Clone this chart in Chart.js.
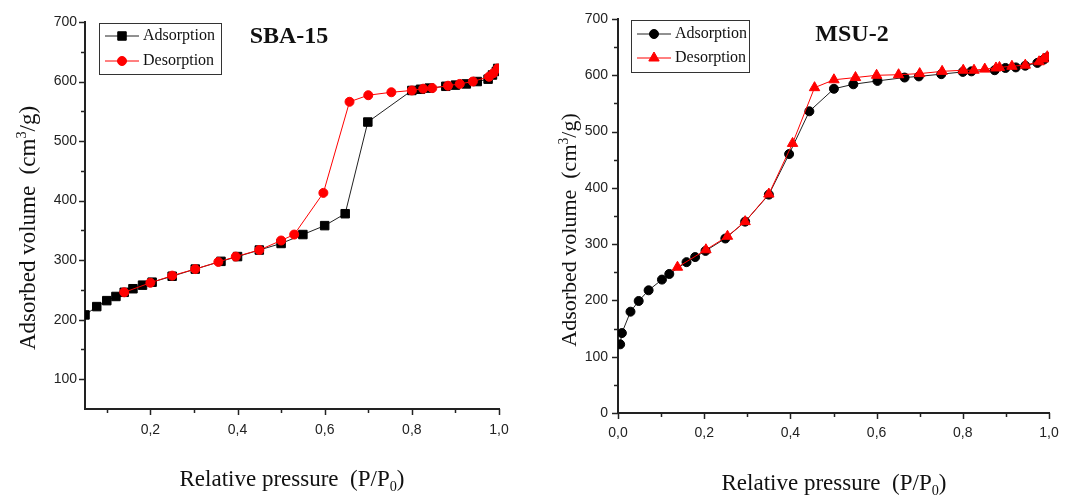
<!DOCTYPE html>
<html>
<head>
<meta charset="utf-8">
<title>SBA-15 / MSU-2 isotherms</title>
<script src="https://cdn.jsdelivr.net/npm/chart.js@4.4.0/dist/chart.umd.min.js"></script>
<style>
  html, body { margin: 0; padding: 0; background: #fff; }
  body { width: 1080px; height: 498px; position: relative; overflow: hidden; }
  canvas { position: absolute; top: 0; }
  #sbaChart { left: 0; }
  #msuChart { left: 540px; }
</style>
</head>
<body>
<canvas id="sbaChart" width="540" height="498"></canvas>
<canvas id="msuChart" width="540" height="498"></canvas>
<script>
// ============================================================
// DATA
// ============================================================

// ---------------- SBA-15
const sbaAdsX = [0.05, 0.077, 0.10, 0.121, 0.14, 0.16, 0.182, 0.204, 0.25, 0.303, 0.362, 0.40, 0.45, 0.50, 0.55, 0.60, 0.647, 0.699, 0.80, 0.82, 0.84, 0.878, 0.90, 0.925, 0.95, 0.975, 0.985, 0.994, 0.997];
const sbaAdsY = [208, 222, 232, 239, 246, 252, 258, 263, 273, 285, 298, 306, 317, 328, 343, 358, 378, 532, 585, 587, 589, 592, 594, 596, 600, 604, 611, 617, 622];
const sbaDesX = [0.997, 0.987, 0.977, 0.94, 0.91, 0.883, 0.847, 0.826, 0.80, 0.753, 0.70, 0.657, 0.597, 0.53, 0.50, 0.45, 0.396, 0.356, 0.303, 0.25, 0.20, 0.14];
const sbaDesY = [622, 614, 608, 600, 596, 593, 589, 588, 585, 582, 577, 566, 413, 343, 333, 317, 306, 297, 285, 274, 262, 246];

const sbaXTicks = [0.1, 0.2, 0.3, 0.4, 0.5, 0.6, 0.7, 0.8, 0.9, 1.0];
const sbaXLabels = ["", "0,2", "", "0,4", "", "0,6", "", "0,8", "", "1,0"];
const sbaYTicks = [100, 150, 200, 250, 300, 350, 400, 450, 500, 550, 600, 650, 700];
const sbaYLabels = ["100", "", "200", "", "300", "", "400", "", "500", "", "600", "", "700"];

// ---------------- MSU-2
const msuAdsX = [0.005, 0.009, 0.029, 0.048, 0.071, 0.102, 0.119, 0.159, 0.179, 0.203, 0.249, 0.295, 0.35, 0.397, 0.444, 0.501, 0.546, 0.602, 0.665, 0.698, 0.75, 0.80, 0.82, 0.874, 0.899, 0.923, 0.945, 0.973, 0.988, 0.996];
const msuAdsY = [122, 142, 180, 199, 218, 237, 247, 268, 277, 288, 310, 340, 388, 460, 536, 576, 584, 590, 596, 598, 602, 606, 607, 609, 613, 614, 617, 622, 628, 632];
const msuDesX = [0.996, 0.987, 0.977, 0.945, 0.914, 0.885, 0.877, 0.851, 0.826, 0.801, 0.752, 0.70, 0.651, 0.60, 0.551, 0.501, 0.456, 0.405, 0.35, 0.295, 0.254, 0.204, 0.138];
const msuDesY = [633, 629, 624, 618, 616, 614, 613, 611, 609, 609, 607, 603, 601, 600, 596, 592, 578, 479, 389, 340, 314, 290, 259];

const msuXTicks = [0.0, 0.1, 0.2, 0.3, 0.4, 0.5, 0.6, 0.7, 0.8, 0.9, 1.0];
const msuXLabels = ["0,0", "", "0,2", "", "0,4", "", "0,6", "", "0,8", "", "1,0"];
const msuYTicks = [0, 50, 100, 150, 200, 250, 300, 350, 400, 450, 500, 550, 600, 650, 700];
const msuYLabels = ["0", "", "100", "", "200", "", "300", "", "400", "", "500", "", "600", "", "700"];

const SERIF = "'Liberation Serif', 'Times New Roman', serif";
const SANS = "'Liberation Sans', Arial, sans-serif";

function toPoints(xs, ys) {
  return xs.map((x, i) => ({ x: x, y: ys[i] }));
}


// ============================================================
// DECORATION PLUGIN (minor ticks, legend box, titles)
// ============================================================

function drawRich(ctx, parts, x, y, size) {
  // parts: [text, "sup"|"sub"|null]
  const widths = parts.map(p => {
    ctx.font = (p[1] ? size * 0.62 : size) + "px " + SERIF;
    return ctx.measureText(p[0]).width;
  });
  let cx = x - widths.reduce((a, b) => a + b, 0) / 2;
  parts.forEach((p, i) => {
    ctx.font = (p[1] ? size * 0.62 : size) + "px " + SERIF;
    const dy = p[1] === "sup" ? -size * 0.38 : p[1] === "sub" ? size * 0.2 : 0;
    ctx.fillText(p[0], cx, y + dy);
    cx += widths[i];
  });
}

const decorPlugin = {
  id: "decor",
  afterDraw(chart, args, o) {
    const ctx = chart.ctx;
    const xs = chart.scales.x;
    const ys = chart.scales.y;
    ctx.save();

    // ---------------- tick marks
    ctx.strokeStyle = "#222";
    ctx.lineWidth = 1.5;
    xs.ticks.forEach((t, i) => {
      const px = Math.round(xs.getPixelForValue(t.value)) + 0.5;
      const len = o.xLabels[i] ? 6 : 4;
      ctx.beginPath();
      ctx.moveTo(px, xs.top);
      ctx.lineTo(px, xs.top + len);
      ctx.stroke();
    });
    ys.ticks.forEach((t, i) => {
      const py = Math.round(ys.getPixelForValue(t.value)) + 0.5;
      const len = o.yLabels[i] ? 6 : 4;
      ctx.beginPath();
      ctx.moveTo(ys.right, py);
      ctx.lineTo(ys.right - len, py);
      ctx.stroke();
    });

    // ---------------- chart title
    ctx.fillStyle = "#111";
    ctx.textBaseline = "middle";
    ctx.textAlign = "center";
    ctx.font = "bold 24px " + SERIF;
    ctx.fillText(o.title, o.titleX, o.titleY);

    // ---------------- legend
    const lg = o.legend;
    ctx.strokeStyle = "#333";
    ctx.lineWidth = 1;
    ctx.strokeRect(lg.x + 0.5, lg.y + 0.5, lg.w, lg.h);
    chart.data.datasets.forEach((ds, i) => {
      const ry = lg.rows[i];
      ctx.strokeStyle = ds.borderColor;
      ctx.lineWidth = 1;
      ctx.beginPath();
      ctx.moveTo(lg.x + 6, ry);
      ctx.lineTo(lg.x + 40, ry);
      ctx.stroke();
      ctx.fillStyle = ds.pointBackgroundColor;
      ctx.strokeStyle = ds.pointBackgroundColor;
      Chart.helpers.drawPoint(ctx, {
        pointStyle: ds.pointStyle,
        radius: ds.pointRadius,
        rotation: 0,
        borderWidth: 1
      }, lg.x + 23, ry);
      ctx.fillStyle = "#111";
      ctx.textAlign = "left";
      ctx.font = "16px " + SERIF;
      ctx.fillText(ds.label, lg.x + 44, ry);
    });

    // ---------------- axis titles
    ctx.fillStyle = "#111";
    ctx.textAlign = "left";
    ctx.textBaseline = "alphabetic";
    drawRich(ctx, [["Relative pressure  (P/P", null], ["0", "sub"], [")", null]], o.xTitleX, o.xTitleY, 23);

    ctx.translate(o.yTitleX, o.yTitleY);
    ctx.rotate(-Math.PI / 2);
    drawRich(ctx, [["Adsorbed volume  (cm", null], ["3", "sup"], ["/g)", null]], 0, 0, o.yTitleSize);

    ctx.restore();
  }
};


// ============================================================
// CHART BUILDER
// ============================================================

function buildChart(id, cfg) {

  const tickFont = { family: SANS, size: 14 };

  return new Chart(document.getElementById(id), {
    type: "scatter",
    data: {
      datasets: [
        {
          label: "Adsorption",
          data: toPoints(cfg.adsX, cfg.adsY),
          showLine: true,
          borderColor: "#222",
          borderWidth: 1,
          pointStyle: cfg.adsStyle,
          pointRadius: cfg.adsRadius,
          pointBackgroundColor: "#000",
          pointBorderColor: "#000",
          pointBorderWidth: 1,
          order: 2
        },
        {
          label: "Desorption",
          data: toPoints(cfg.desX, cfg.desY),
          showLine: true,
          borderColor: "#ff0000",
          borderWidth: 1,
          pointStyle: cfg.desStyle,
          pointRadius: cfg.desRadius,
          pointBackgroundColor: "#ff0000",
          pointBorderColor: "#ff0000",
          pointBorderWidth: 1,
          order: 1
        }
      ]
    },
    options: {
      responsive: false,
      animation: false,
      layout: { padding: cfg.padding },
      plugins: {
        legend: { display: false },
        tooltip: { enabled: false },
        decor: cfg.decor
      },
      scales: {
        x: {
          type: "linear",
          min: cfg.xMin,
          max: 1.0,
          afterBuildTicks: s => { s.ticks = cfg.xTicks.map(v => ({ value: v })); },
          afterFit: s => { s.height = cfg.xHeight; },
          ticks: {
            autoSkip: false,
            maxRotation: 0,
            padding: cfg.xPad,
            color: "#222",
            font: tickFont,
            callback: (v, i) => cfg.xLabels[i]
          },
          grid: { display: false, drawTicks: false },
          border: { display: true, color: "#222", width: 2 }
        },
        y: {
          type: "linear",
          min: cfg.yMin,
          max: 700,
          afterBuildTicks: s => { s.ticks = cfg.yTicks.map(v => ({ value: v })); },
          afterFit: s => { s.width = cfg.yWidth; },
          ticks: {
            autoSkip: false,
            padding: cfg.yPad,
            color: "#222",
            font: tickFont,
            callback: (v, i) => cfg.yLabels[i]
          },
          grid: { display: false, drawTicks: false },
          border: { display: true, color: "#222", width: 2 }
        }
      }
    },
    plugins: [decorPlugin]
  });
}


// ============================================================
// SBA-15 (left)
// ============================================================

buildChart("sbaChart", {
  adsX: sbaAdsX, adsY: sbaAdsY, desX: sbaDesX, desY: sbaDesY,
  adsStyle: "rect", adsRadius: 6, desStyle: "circle", desRadius: 4.5,
  xMin: 0.05, yMin: 50,
  xTicks: sbaXTicks, xLabels: sbaXLabels,
  yTicks: sbaYTicks, yLabels: sbaYLabels,
  padding: { left: 0, top: 22, right: 41, bottom: 0 },
  yWidth: 85, xHeight: 89, xPad: 13, yPad: 8,
  decor: {
    xLabels: sbaXLabels, yLabels: sbaYLabels,
    title: "SBA-15", titleX: 289, titleY: 37,
    legend: { x: 99, y: 23, w: 122, h: 51, rows: [36, 61] },
    xTitleX: 292, xTitleY: 486,
    yTitleX: 35, yTitleY: 228, yTitleSize: 23
  }
});


// ============================================================
// MSU-2 (right)
// ============================================================

buildChart("msuChart", {
  adsX: msuAdsX, adsY: msuAdsY, desX: msuDesX, desY: msuDesY,
  adsStyle: "circle", adsRadius: 4.5, desStyle: "triangle", desRadius: 6,
  xMin: 0.0, yMin: 0,
  xTicks: msuXTicks, xLabels: msuXLabels,
  yTicks: msuYTicks, yLabels: msuYLabels,
  padding: { left: 0, top: 19, right: 31, bottom: 0 },
  yWidth: 78, xHeight: 85, xPad: 12, yPad: 10,
  decor: {
    xLabels: msuXLabels, yLabels: msuYLabels,
    title: "MSU-2", titleX: 312, titleY: 35,
    legend: { x: 91, y: 20, w: 118, h: 52, rows: [34, 58] },
    xTitleX: 294, xTitleY: 490,
    yTitleX: 36, yTitleY: 230, yTitleSize: 22
  }
});
</script>
</body>
</html>
